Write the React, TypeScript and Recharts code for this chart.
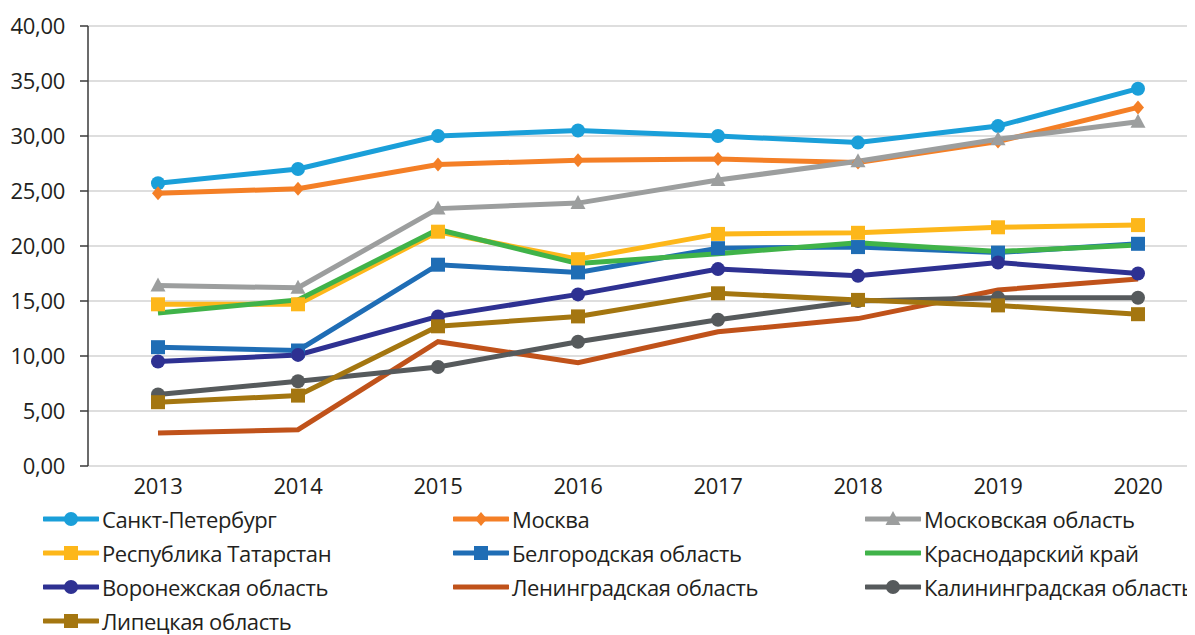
import React from 'react';
import { LineChart, Line, XAxis, YAxis, CartesianGrid } from 'recharts';

const years = [2013, 2014, 2015, 2016, 2017, 2018, 2019, 2020];
const boundaryTicks = [2012.5, 2013.5, 2014.5, 2015.5, 2016.5, 2017.5, 2018.5, 2019.5, 2020.5];
const yTicks = [0, 5, 10, 15, 20, 25, 30, 35, 40];

const spb = [25.7, 27.0, 30.0, 30.5, 30.0, 29.4, 30.9, 34.3];
const moscow = [24.8, 25.2, 27.4, 27.8, 27.9, 27.6, 29.5, 32.6];
const moscowObl = [16.4, 16.2, 23.4, 23.9, 26.0, 27.7, 29.7, 31.3];
const tatarstan = [14.7, 14.7, 21.3, 18.8, 21.1, 21.2, 21.7, 21.9];
const belgorod = [10.8, 10.5, 18.3, 17.6, 19.8, 19.9, 19.4, 20.2];
const krasnodar = [13.9, 15.1, 21.5, 18.4, 19.3, 20.3, 19.5, 20.1];
const voronezh = [9.5, 10.1, 13.6, 15.6, 17.9, 17.3, 18.5, 17.5];
const leningrad = [3.0, 3.3, 11.3, 9.4, 12.2, 13.4, 16.0, 17.0];
const kaliningrad = [6.5, 7.7, 9.0, 11.3, 13.3, 15.0, 15.3, 15.3];
const lipetsk = [5.8, 6.4, 12.7, 13.6, 15.7, 15.1, 14.6, 13.8];

type Shape = 'circle' | 'diamond' | 'triangle' | 'square' | 'none';
const series: { key: string; name: string; values: number[]; color: string; shape: Shape }[] = [
  { key: 's1', name: 'Санкт-Петербург', values: spb, color: '#1a9fd9', shape: 'circle' },
  { key: 's2', name: 'Москва', values: moscow, color: '#f47f26', shape: 'diamond' },
  { key: 's3', name: 'Московская область', values: moscowObl, color: '#9c9e9e', shape: 'triangle' },
  { key: 's4', name: 'Республика Татарстан', values: tatarstan, color: '#fdb71a', shape: 'square' },
  { key: 's5', name: 'Белгородская область', values: belgorod, color: '#1f6db5', shape: 'square' },
  { key: 's6', name: 'Краснодарский край', values: krasnodar, color: '#40b349', shape: 'none' },
  { key: 's7', name: 'Воронежская область', values: voronezh, color: '#2e3192', shape: 'circle' },
  { key: 's8', name: 'Ленинградская область', values: leningrad, color: '#c0521a', shape: 'none' },
  { key: 's9', name: 'Калининградская область', values: kaliningrad, color: '#565a5c', shape: 'circle' },
  { key: 's10', name: 'Липецкая область', values: lipetsk, color: '#a47610', shape: 'square' },
];

const data = years.map((y, i) => {
  const row: Record<string, number> = { year: y };
  series.forEach((s) => {
    row[s.key] = s.values[i];
  });
  return row;
});

const FONT = '"Open Sans", sans-serif';

function Marker({ cx, cy, shape, color }: { cx: number; cy: number; shape: Shape; color: string }) {
  if (shape === 'circle') return <circle cx={cx} cy={cy} r={7} fill={color} />;
  if (shape === 'square') return <rect x={cx - 7} y={cy - 7} width={14} height={14} fill={color} />;
  if (shape === 'diamond')
    return <polygon points={`${cx},${cy - 7} ${cx + 6},${cy} ${cx},${cy + 7} ${cx - 6},${cy}`} fill={color} />;
  if (shape === 'triangle')
    return <polygon points={`${cx},${cy - 8} ${cx + 7.5},${cy + 6} ${cx - 7.5},${cy + 6}`} fill={color} />;
  return null;
}

const makeDot = (shape: Shape, color: string) => (props: any) => {
  const { cx, cy, index } = props;
  if (shape === 'none' || cx == null || cy == null) return <g key={index} />;
  return <Marker key={index} cx={cx} cy={cy} shape={shape} color={color} />;
};

const legendCols = [35, 445, 857];
const legendRows = [511, 545, 579, 613];

export default function App() {
  return (
    <div style={{ position: 'relative', width: 1187, height: 627, overflow: 'hidden', fontFamily: FONT }}>
      <LineChart width={1200} height={498} data={data} margin={{ top: 18, right: 0, left: 0, bottom: 0 }}>
        <CartesianGrid vertical={false} stroke="#d3d3d3" strokeWidth={1.5} />
        <XAxis
          xAxisId={0}
          dataKey="year"
          type="number"
          domain={[2012.5, 2020.5]}
          ticks={boundaryTicks}
          tickFormatter={() => ''}
          tickSize={8}
          height={0}
          stroke="#3a3a3a"
          strokeWidth={1.5}
          allowDecimals
        />
        <XAxis
          xAxisId="lbl"
          dataKey="year"
          type="number"
          domain={[2012.5, 2020.5]}
          ticks={years}
          axisLine={false}
          tickLine={false}
          tickSize={0}
          tickMargin={12}
          height={40}
          tick={{ fill: '#231f20', fontSize: 22, fontFamily: FONT, letterSpacing: -0.3 }}
        />
        <YAxis
          domain={[0, 40]}
          ticks={yTicks}
          width={80}
          tickSize={8}
          tickMargin={15}
          stroke="#3a3a3a"
          strokeWidth={1.5}
          tick={{ fill: '#231f20', fontSize: 22, fontFamily: FONT, letterSpacing: -0.3 }}
          tickFormatter={(v: number) => v.toFixed(2).replace('.', ',')}
        />
        {series.map((s) => (
          <Line
            key={s.key}
            dataKey={s.key}
            name={s.name}
            stroke={s.color}
            strokeWidth={5}
            dot={makeDot(s.shape, s.color)}
            activeDot={false}
            isAnimationActive={false}
          />
        ))}
      </LineChart>
      {series.map((s, i) => {
        const col = i % 3;
        const row = Math.floor(i / 3);
        return (
          <div
            key={s.key}
            style={{
              position: 'absolute',
              left: legendCols[col],
              top: legendRows[row] - 15,
              height: 30,
              display: 'flex',
              alignItems: 'center',
              whiteSpace: 'nowrap',
            }}
          >
            <svg width={56} height={20} style={{ display: 'block' }}>
              <line x1={1} y1={10} x2={55} y2={10} stroke={s.color} strokeWidth={5} strokeLinecap="round" />
              <Marker cx={28} cy={10} shape={s.shape} color={s.color} />
            </svg>
            <span style={{ marginLeft: 3, fontSize: 22, letterSpacing: -0.4, color: '#231f20', fontFamily: FONT }}>
              {s.name}
            </span>
          </div>
        );
      })}
    </div>
  );
}
